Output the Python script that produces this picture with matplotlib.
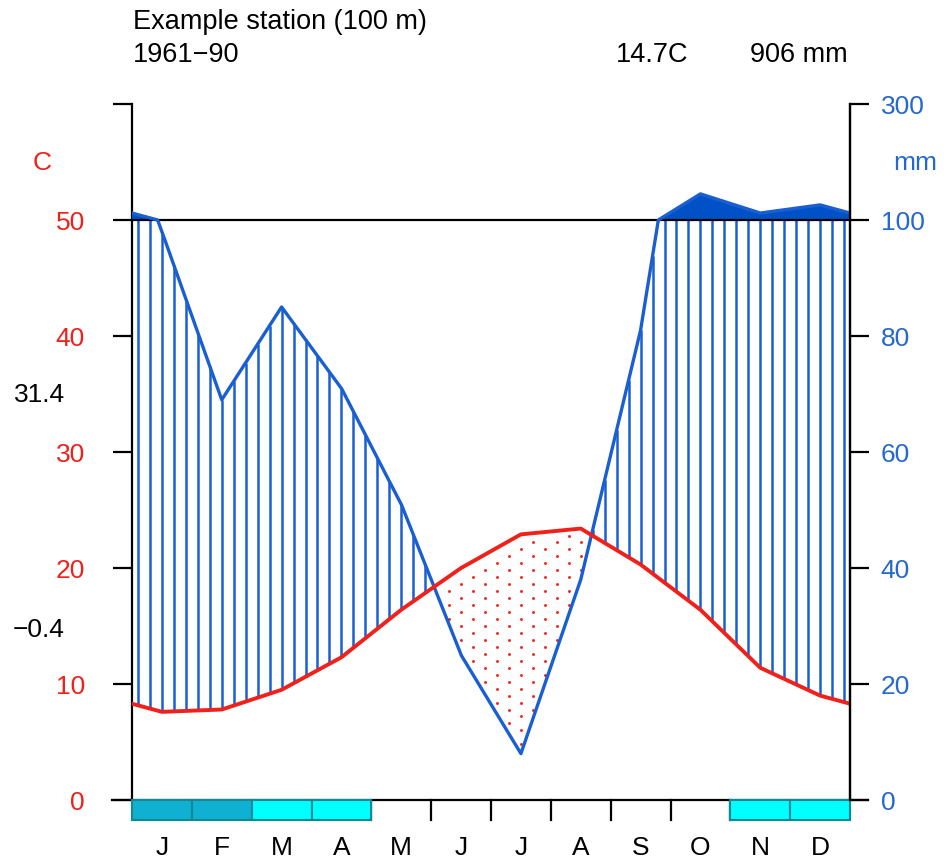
import numpy as np
import matplotlib
matplotlib.use('Agg')
import matplotlib.pyplot as plt
from matplotlib.patches import Rectangle

plt.rcParams['font.family'] = ['Liberation Sans', 'DejaVu Sans']

# --- data ---
months = ['J', 'F', 'M', 'A', 'M', 'J', 'J', 'A', 'S', 'O', 'N', 'D']
temp = [7.6, 7.8, 9.5, 12.3, 16.4, 20.0, 22.9, 23.4, 20.3, 16.4, 11.4, 9.0]   # C
precip = [98, 69, 85, 71, 51, 25, 8, 38, 81, 145, 112, 126]                  # mm
frost = ['sure', 'sure', 'prob', 'prob', None, None, None, None, None, None, 'prob', 'prob']
station = 'Example station (100 m)'
period = '1961\u221290'
mean_temp_txt = '14.7C'
total_prec_txt = '906 mm'
abs_max_txt = '31.4'
abs_min_txt = '\u22120.4'
temp_ticks = [0, 10, 20, 30, 40, 50, 60]
temp_ticklabels = ['0', '10', '20', '30', '40', '50', '']
prec_ticklabels = ['0', '20', '40', '60', '80', '100', '300']

RED = '#f0201a'
BLUE = '#1a5fd2'
BLUE_TXT = '#2468d0'
SURE_COL = '#0fb0d2'
PROB_COL = '#00ffff'


def scale_prec(p):
    # 0-100 mm -> 0-50 (2 mm per C), above 100 mm compressed 10x
    p = np.asarray(p, dtype=float)
    return np.where(p <= 100, p / 2.0, 50 + (p - 100) / 20.0)


# month centres plus the two edges (mean of Dec/Jan)
x = np.concatenate([[0], np.arange(12) + 0.5, [12]])
t = np.concatenate([[(temp[0] + temp[-1]) / 2], temp, [(temp[0] + temp[-1]) / 2]])
p_mm = np.concatenate([[(precip[0] + precip[-1]) / 2], precip, [(precip[0] + precip[-1]) / 2]])

# interpolate in mm, then compress
xd = np.linspace(0, 12, 2401)
pd_ = scale_prec(np.interp(xd, x, p_mm))

fig = plt.figure(figsize=(9.5, 8.65), dpi=100)
ax = fig.add_axes([132 / 950, 65 / 865, 718 / 950, 696 / 865])
ax.set_xlim(0, 12)
ax.set_ylim(0, 60)

# hatching where humid, dots where arid
xs = np.arange(0.1, 12, 0.2)
ti = np.interp(xs, x, t)
pi = scale_prec(np.interp(xs, x, p_mm))
for k, (xx, a, b) in enumerate(zip(xs, ti, pi)):
    if b > a:
        ax.plot([xx, xx], [a, min(b, 50)], color=BLUE, lw=1.8, solid_capstyle='butt', zorder=2)
    else:
        yy = np.arange(0, 50, 0.6)
        yy = yy[(np.round(yy / 0.6).astype(int) + k) % 2 == 0]
        yy = yy[(yy > b + 0.3) & (yy < a - 0.3)]
        ax.plot(np.full(len(yy), xx), yy, ls='none', marker='o', ms=2.1, color=RED, mew=0, zorder=2)

# solid fill above 100 mm
ax.fill_between(xd, 50, pd_, where=pd_ > 50, color='#0050c8', lw=0, zorder=3)

ax.axhline(50, color='black', lw=1.6, zorder=3)
ax.plot(xd, pd_, color=BLUE, lw=2.4, zorder=4)
ax.plot(x, t, color=RED, lw=2.8, zorder=5)
ax.axhline(0, xmin=-20 / 718, xmax=1 + 18 / 718, color='black', lw=1.6, clip_on=False, zorder=6)

# frost boxes and month boundary ticks
for i, f in enumerate(frost):
    if f is not None:
        ax.add_patch(Rectangle((i, -1.72), 1, 1.72, facecolor=SURE_COL if f == 'sure' else PROB_COL,
                               edgecolor='#0f8a96', lw=1.5, clip_on=False, zorder=6))
for i in range(1, 12):
    if frost[i - 1] is None or frost[i] is None:
        ax.plot([i, i], [0, -1.72], color='black', lw=1.6, clip_on=False, zorder=5)
for i, m in enumerate(months):
    ax.text(i + 0.5, -4.1, m, ha='center', va='center', fontsize=19, color='black')

# axes
for s in ['top', 'bottom']:
    ax.spines[s].set_visible(False)
for s in ['left', 'right']:
    ax.spines[s].set_linewidth(1.6)
ax.set_xticks([])
ax.set_yticks(temp_ticks)
ax.set_yticklabels(temp_ticklabels)
ax.tick_params(axis='y', direction='out', length=14, width=1.6, labelsize=19, labelcolor=RED, pad=20)

ax2 = ax.twinx()
ax2.set_ylim(0, 60)
ax2.set_yticks(temp_ticks)
ax2.set_yticklabels(prec_ticklabels)
ax2.tick_params(axis='y', direction='out', length=14, width=1.6, labelsize=19, labelcolor=BLUE_TXT, pad=8)
for s in ['top', 'bottom', 'left']:
    ax2.spines[s].set_visible(False)
ax2.spines['right'].set_linewidth(1.6)

# labels / header
fig.text(42 / 950, 1 - 163 / 865, 'C', color=RED, fontsize=19, ha='center', va='center')
fig.text(915 / 950, 1 - 163 / 865, 'mm', color=BLUE_TXT, fontsize=19, ha='center', va='center')
fig.text(65 / 950, 1 - 395 / 865, abs_max_txt, fontsize=19, ha='right', va='center')
fig.text(65 / 950, 1 - 630 / 865, abs_min_txt, fontsize=19, ha='right', va='center')
fig.text(133 / 950, 1 - 22 / 865, station, fontsize=19.5, ha='left', va='center')
fig.text(133 / 950, 1 - 55 / 865, period, fontsize=19.5, ha='left', va='center')
fig.text(688 / 950, 1 - 55 / 865, mean_temp_txt, fontsize=19.5, ha='right', va='center')
fig.text(848 / 950, 1 - 55 / 865, total_prec_txt, fontsize=19.5, ha='right', va='center')

fig.savefig('out.png', dpi=100)
